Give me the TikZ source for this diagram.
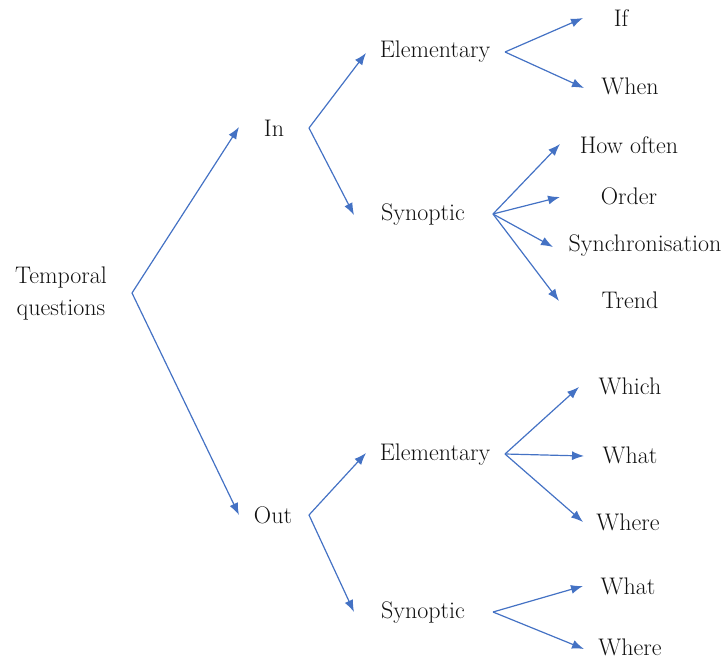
\documentclass[tikz,border=0pt]{standalone}
\usetikzlibrary{arrows.meta}
\definecolor{lineblue}{HTML}{4472C4}
\definecolor{txt}{HTML}{111111}
\tikzset{
  lbl/.style={inner sep=0pt, text=txt, font=\fontsize{24}{32}\selectfont, align=center},
  conn/.style={draw=lineblue, line width=1.2pt},
  arr/.style={conn, -{Latex[length=12pt,width=9pt]}}
}
\begin{document}
\begin{tikzpicture}[x=1pt,y=-1pt]
\useasboundingbox (0,0) rectangle (728,663);
% labels
\node[lbl] (root) at (61,294) {Temporal\\questions};
\node[lbl] (in) at (274,128) {In};
\node[lbl] (out) at (273,515) {Out};
\node[lbl] (el1) at (435,52) {Elementary};
\node[lbl] (sy1) at (423,215) {Synoptic};
\node[lbl] (el2) at (435,455) {Elementary};
\node[lbl] (sy2) at (423,613) {Synoptic};
\node[lbl] (if) at (621,18) {If};
\node[lbl] (when) at (630,86) {When};
\node[lbl] (howoften) at (629,145) {How often};
\node[lbl] (order) at (629,196) {Order};
\node[lbl] (sync) at (645,246) {Synchronisation};
\node[lbl] (trend) at (630,300) {Trend};
\node[lbl] (which) at (630,386) {Which};
\node[lbl] (what1) at (630,455) {What};
\node[lbl] (where1) at (628,522) {Where};
\node[lbl] (what2) at (628,586) {What};
\node[lbl] (where2) at (630,647) {Where};
% branch points
\coordinate (aroot) at (132,293);
\coordinate (ain) at (309,128);
\coordinate (aout) at (309,515);
\coordinate (ael1) at (505,52);
\coordinate (asy1) at (493,214);
\coordinate (ael2) at (505,454);
\coordinate (asy2) at (493,612);
% arrow tips
\coordinate (tin) at (239,127);
\coordinate (tout) at (239,515);
\coordinate (tel1) at (366,53);
\coordinate (tsy1) at (354,215);
\coordinate (tel2) at (366,453);
\coordinate (tsy2) at (354,612);
\coordinate (tif) at (583,18);
\coordinate (twhen) at (584,88);
\coordinate (thow) at (560,144);
\coordinate (tord) at (560,197);
\coordinate (tsyn) at (553,247);
\coordinate (ttre) at (559,301);
\coordinate (twhi) at (579,387);
\coordinate (twha1) at (584,456);
\coordinate (twhe1) at (583,522);
\coordinate (twha2) at (583,586);
\coordinate (twhe2) at (584,649);
% connectors
\draw[arr] (aroot) -- (tin);
\draw[arr] (aroot) -- (tout);
\draw[arr] (ain) -- (tel1);
\draw[arr] (ain) -- (tsy1);
\draw[arr] (aout) -- (tel2);
\draw[arr] (aout) -- (tsy2);
\draw[arr] (ael1) -- (tif);
\draw[arr] (ael1) -- (twhen);
\draw[arr] (asy1) -- (thow);
\draw[arr] (asy1) -- (tord);
\draw[arr] (asy1) -- (tsyn);
\draw[arr] (asy1) -- (ttre);
\draw[arr] (ael2) -- (twhi);
\draw[arr] (ael2) -- (twha1);
\draw[arr] (ael2) -- (twhe1);
\draw[arr] (asy2) -- (twha2);
\draw[arr] (asy2) -- (twhe2);
\end{tikzpicture}
\end{document}
